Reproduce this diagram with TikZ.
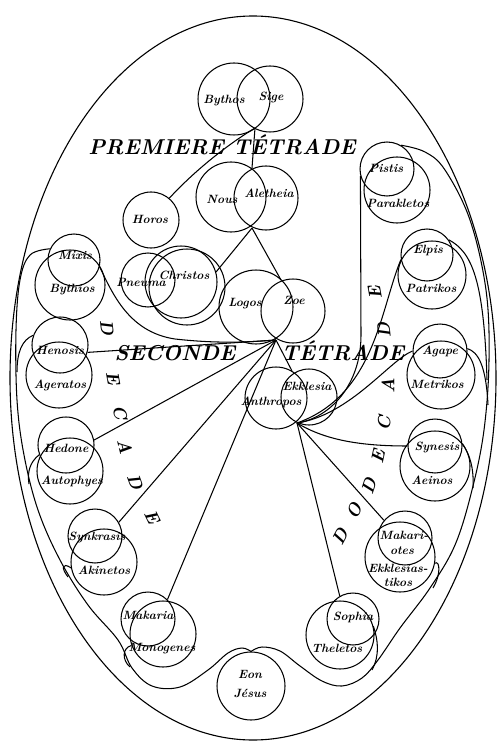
\documentclass[tikz,border=0pt]{standalone}
\begin{document}
\begin{tikzpicture}[x=1pt,y=-1pt,
  ring/.style={draw, circle, line width=1.05pt, inner sep=0pt},
  nm/.style={font=\fontsize{12}{13}\selectfont\bfseries\itshape, inner sep=0pt},
  big/.style={font=\fontsize{21.5}{24}\selectfont\bfseries\itshape, inner sep=0pt, anchor=base},
  letter/.style={font=\fontsize{18}{19}\selectfont\bfseries\itshape, inner sep=0pt},
  link/.style={line width=1.05pt},
  chain/.style={line width=1.05pt}]
\useasboundingbox (0,0) rectangle (500,746);
% outer egg
\draw[line width=1.1pt] (253,378) ellipse [x radius=243, y radius=362];

% circles
\node[ring, minimum size=72pt] (bytC) at (234,99) {};
\node[ring, minimum size=66pt] (sigC) at (270,99) {};
\node[ring, minimum size=70pt] (nouC) at (231,197) {};
\node[ring, minimum size=64pt] (aleC) at (266,198) {};
\node[ring, minimum size=56pt] (horC) at (151,220) {};
\node[ring, minimum size=54pt] (pneC) at (148,280) {};
\node[ring, minimum size=72pt] (chrC) at (181,282) {};
\node[ring, minimum size=76pt] (chrD) at (187,287) {};
\node[ring, minimum size=52pt] (mixC) at (74,260) {};
\node[ring, minimum size=70pt] (bthC) at (70,285) {};
\node[ring, minimum size=74pt] (logC) at (256,307) {};
\node[ring, minimum size=64pt] (zoeC) at (293,311) {};
\node[ring, minimum size=56pt] (henC) at (60,345) {};
\node[ring, minimum size=66pt] (ageC) at (59,375) {};
\node[ring, minimum size=62pt] (antC) at (276,398) {};
\node[ring, minimum size=56pt] (ekkC) at (309,397) {};
\node[ring, minimum size=56pt] (hedC) at (66,445) {};
\node[ring, minimum size=66pt] (autC) at (70,471) {};
\node[ring, minimum size=54pt] (synC) at (95,536) {};
\node[ring, minimum size=66pt] (akiC) at (104,562) {};
\node[ring, minimum size=54pt] (makC) at (148,619) {};
\node[ring, minimum size=66pt] (monC) at (163,634) {};
\node[ring, minimum size=68pt] (eonC) at (251,686) {};
\node[ring, minimum size=52pt] (sopC) at (353,619) {};
\node[ring, minimum size=68pt] (theC) at (340,635) {};
\node[ring, minimum size=54pt] (mktC) at (405,538) {};
\node[ring, minimum size=70pt] (eksC) at (400,557) {};
\node[ring, minimum size=54pt] (snsC) at (435,446) {};
\node[ring, minimum size=70pt] (aeiC) at (435,466) {};
\node[ring, minimum size=54pt] (agaC) at (440,351) {};
\node[ring, minimum size=68pt] (metC) at (441,375) {};
\node[ring, minimum size=52pt] (elpC) at (427,255) {};
\node[ring, minimum size=68pt] (patC) at (432,275) {};
\node[ring, minimum size=54pt] (pisC) at (387,169) {};
\node[ring, minimum size=66pt] (parC) at (397,190) {};

% junction points
\coordinate (c0) at (255,128);
\coordinate (naT) at (252,168);
\coordinate (naB) at (252,228);
\coordinate (lzT) at (281,280);
\coordinate (c1) at (276,340);
\coordinate (anT) at (292,371);
\coordinate (c2) at (297,423);

% connectors of the first tetrad
\draw[link] (horC.50) .. controls (200,165) and (235,140) .. (c0);
\draw[link] (naT) -- (c0);
\draw[link] (naB) -- (lzT);
\draw[link] (naB) -- (chrC.16);
\draw[link] (c1) -- (anT);

% decade
\draw[link] (mixC.-15) .. controls (112,292) and (128,332) .. (175,339) .. controls (220,344) and (250,342) .. (c1);
\draw[link] (henC.-15) -- (c1);
\draw[link] (hedC.10) -- (c1);
\draw[link] (synC.30) -- (c1);
\draw[link] (makC.45) -- (c1);

% dodecade
\draw[link] (pisC.195) -- (361,335) .. controls (361,385) and (330,418) .. (c2);
\draw[link] (elpC.190) .. controls (380,310) and (375,395) .. (c2);
\draw[link] (agaC.180) .. controls (390,360) and (350,415) .. (c2);
\draw[link] (snsC.180) .. controls (360,446) and (325,440) .. (c2);
\draw[link] (mktC.140) -- (c2);
\draw[link] (sopC.120) -- (c2);

% inner chains
\draw[chain] plot[smooth, tension=0.6] coordinates {(mixC.155) (30,255) (20,280) (16,330) (17,400) (24,455) (38,510) (60,560) (88,605) (118,640) (132,668) (152,686) (180,687) (208,670) (228,653) (242,648) (eonC.90)};
\draw[chain] plot[smooth, tension=0.6] coordinates {(eonC.90) (262,647) (280,651) (300,666) (322,681) (342,686) (362,678) (378,660) (400,628) (430,588) (455,545) (472,490) (484,430) (489,360) (486,290) (470,220) (445,170) (425,152) (pisC.60)};
\draw[chain] (elpC.35) .. controls (472,252) and (484,280) .. (487,380);
\draw[chain] (agaC.5) .. controls (478,352) and (486,365) .. (488,405);
\draw[chain] (snsC.5) .. controls (470,455) and (474,468) .. (473,488);
\draw[chain] (eksC.-10) .. controls (440,560) and (441,575) .. (433,588);
\draw[chain] (theC.15) .. controls (378,640) and (380,655) .. (372,670);
\draw[chain] (henC.160) .. controls (22,340) and (17,352) .. (17,372);
\draw[chain] (hedC.200) .. controls (30,462) and (27,472) .. (29,484);
\draw[chain] (akiC.190) .. controls (62,562) and (61,568) .. (68,577);
\draw[chain] (monC.200) .. controls (122,648) and (122,660) .. (130,667);

% names
\node[nm] (tByt) at (224,101) {Bythos};
\node[nm] (tSig) at (271,97) {Sige};
\node[nm] (tNou) at (222,199) {Nous};
\node[nm] (tAle) at (269,193) {Aletheia};
\node[nm] (tHor) at (150,219) {Horos};
\node[nm] (tPne) at (141,282) {Pneuma};
\node[nm] (tChr) at (184,275) {Christos};
\node[nm] (tMix) at (75,255) {Mixis};
\node[nm] (tBth) at (72,290) {Bythios};
\node[nm] (tLog) at (245,304) {Logos};
\node[nm] (tZoe) at (294,300) {Zoe};
\node[nm] (tHen) at (60,350) {Henosis};
\node[nm] (tAge) at (60,385) {Ageratos};
\node[nm] (tAnt) at (271,402) {Anthropos};
\node[nm] (tEkk) at (307,386) {Ekklesia};
\node[nm] (tHed) at (66,448) {Hedone};
\node[nm] (tAut) at (72,481) {Autophyes};
\node[nm] (tSyn) at (97,537) {Synkrasis};
\node[nm] (tAki) at (104,570) {Akinetos};
\node[nm] (tMak) at (148,615) {Makaria};
\node[nm] (tMon) at (162,649) {Monogenes};
\node[nm] (tEon) at (250,674) {Eon};
\node[nm] (tJes) at (250,693) {Jésus};
\node[nm] (tSop) at (353,617) {Sophia};
\node[nm] (tThe) at (337,648) {Theletos};
\node[nm] (tMk1) at (404,535) {Makari-};
\node[nm] (tMk2) at (402,551) {otes};
\node[nm] (tEk1) at (398,568) {Ekklesias-};
\node[nm] (tEk2) at (398,582) {tikos};
\node[nm] (tSns) at (437,447) {Synesis};
\node[nm] (tAei) at (432,480) {Aeinos};
\node[nm] (tAga) at (440,351) {Agape};
\node[nm] (tMet) at (437,384) {Metrikos};
\node[nm] (tElp) at (428,250) {Elpis};
\node[nm] (tPat) at (431,288) {Patrikos};
\node[nm] (tPis) at (386,168) {Pistis};
\node[nm] (tPar) at (398,203) {Parakletos};

% titles
\node[big] (tPrem) at (222,155) {PREMIERE TÉTRADE};
\node[big] (tSec) at (175,360) {SECONDE};
\node[big] (tTet) at (343,360) {TÉTRADE};

% DECADE (left)
\node[letter, rotate=-83] (d1) at (107,328) {D};
\node[letter, rotate=-80] (d2) at (113,378) {E};
\node[letter, rotate=-78] (d3) at (120,412) {C};
\node[letter, rotate=-76] (d4) at (125,447) {A};
\node[letter, rotate=-70] (d5) at (135,482) {D};
\node[letter, rotate=-64] (d6) at (152,517) {E};
% DODECADE (right)
\node[letter, rotate=62] (e1) at (340,537) {D};
\node[letter, rotate=66] (e2) at (354,511) {O};
\node[letter, rotate=72] (e3) at (369,486) {D};
\node[letter, rotate=78] (e4) at (378,457) {E};
\node[letter, rotate=84] (e5) at (384,423) {C};
\node[letter, rotate=90] (e6) at (388,386) {A};
\node[letter, rotate=96] (e7) at (384,330) {D};
\node[letter, rotate=100] (e8) at (375,293) {E};
\end{tikzpicture}
\end{document}
